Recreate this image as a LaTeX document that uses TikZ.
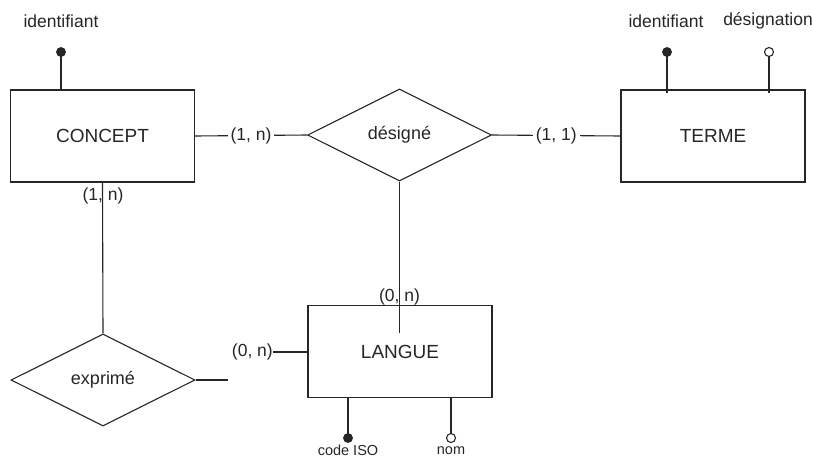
\documentclass[tikz,border=0pt]{standalone}
\usepackage{fontspec}
\setmainfont{Liberation Sans}
\usetikzlibrary{shapes.geometric}
\begin{document}
\begin{tikzpicture}[x=1pt,y=-1pt,
  every node/.style={text=black!85},
  conn/.style={draw=black!85, line width=1.1pt},
  entity/.style={rectangle, draw=black!85, line width=1.1pt, minimum width=184pt, minimum height=92pt, inner sep=0pt, font=\fontsize{19}{22}\selectfont},
  relation/.style={diamond, draw=black!85, line width=1.1pt, minimum width=184pt, minimum height=92pt, inner sep=0pt, font=\fontsize{18}{21}\selectfont},
  card/.style={font=\fontsize{17.5}{20}\selectfont, inner sep=2pt},
  attrlabel/.style={font=\fontsize{17.5}{20}\selectfont, inner sep=0pt},
  smalllabel/.style={font=\fontsize{14.5}{17}\selectfont, inner sep=0pt},
  iddot/.style={circle, fill=black!85, draw=black!85, line width=0.8pt, minimum size=9pt, inner sep=0pt},
  plaindot/.style={circle, fill=white, draw=black!85, line width=1.1pt, minimum size=9pt, inner sep=0pt}
]
\useasboundingbox (0,0) rectangle (813,458);

% entities
\node[entity] (concept) at (102.5,136) {CONCEPT};
\node[entity] (terme) at (713,136) {TERME};
\node[entity] (langue) at (400,351.5) {LANGUE};

% relations
\node[relation] (designe) at (399.5,135) {désigné};
\node[relation] (exprime) at (103,380) {exprimé};

% attributes of CONCEPT
\coordinate (cidb) at (61,90);
\draw[conn] (61,52) -- (cidb);
\node[iddot] (cid) at (61,52) {};
\node[attrlabel] (cidl) at (61,21) {identifiant};

% attributes of TERME
\coordinate (tidb) at (667,93);
\coordinate (tdesb) at (769,93);
\draw[conn] (667,52) -- (tidb);
\draw[conn] (769,52) -- (tdesb);
\node[iddot] (tid) at (667,52) {};
\node[plaindot] (tdes) at (769,52) {};
\node[attrlabel] (tidl) at (666,21) {identifiant};
\node[attrlabel] (tdesl) at (768,21) {désignation};

% attributes of LANGUE
\coordinate (lisob) at (348,397);
\coordinate (lnomb) at (451,397);
\draw[conn] (lisob) -- (348,438);
\draw[conn] (lnomb) -- (451,438);
\node[iddot] (liso) at (348,438) {};
\node[plaindot] (lnom) at (451,438) {};
\node[smalllabel] (lisol) at (348,450.5) {code ISO};
\node[smalllabel] (lnoml) at (451,450.5) {nom};

% connectors
\draw[conn] (concept.east) -- node[card, fill=white, inner xsep=3pt] (c1) {(1, n)} (designe.west);
\draw[conn] (designe.east) -- node[card, fill=white, inner xsep=3pt] (c2) {(1, 1)} (terme.west);

\coordinate (dl) at (399.5,333);
\draw[conn] (designe.south) -- (dl);
\node[card] (c3) at (399.5,297) {(0, n)};

\draw[conn] (concept.south) -- (exprime.north);
\node[card] (c4) at (103,196) {(1, n)};

\coordinate (lw) at (273,352);
\draw[conn] (langue.west |- lw) -- (lw);
\node[card, anchor=east, inner sep=0pt] (c5) at (lw) {(0, n)};

\coordinate (ee) at (228,380);
\draw[conn] (exprime.east) -- (ee);
\end{tikzpicture}
\end{document}
